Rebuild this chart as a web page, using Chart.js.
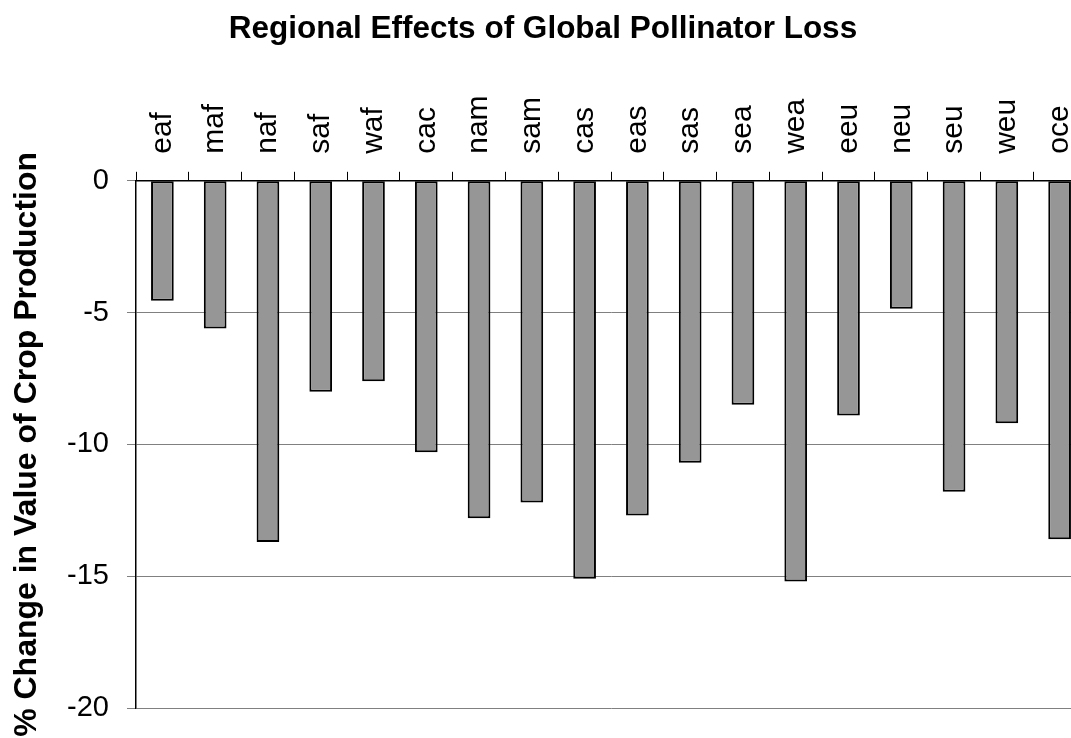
<!DOCTYPE html>
<html>
<head>
<meta charset="utf-8">
<script src="https://cdn.jsdelivr.net/npm/chart.js@4/dist/chart.umd.min.js"></script>
<style>
    html, body { margin: 0; padding: 0; background: #fff; overflow: hidden; }
    #wrap { width: 1090px; height: 738px; }
</style>
</head>
<body>
<div id="wrap"><canvas id="pollChart" width="1090" height="738"></canvas></div>
<script>
const regions = ['eaf', 'maf', 'naf', 'saf', 'waf', 'cac', 'nam', 'sam', 'cas',
    'eas', 'sas', 'sea', 'wea', 'eeu', 'neu', 'seu', 'weu', 'oce'];
const pctChange = [-4.55, -5.6, -13.7, -8.0, -7.6, -10.3, -12.8, -12.2, -15.1,
    -12.7, -10.7, -8.5, -15.2, -8.9, -4.85, -11.8, -9.2, -13.6];
const yMin = -20;
const yMax = 0;
const yStep = 5;

const fontFamily = '"Liberation Sans", Arial, sans-serif';

function getConfig() {
    return {
        type: 'bar',
        data: {
            labels: regions,
            datasets: [
                {
                    data: pctChange,
                    backgroundColor: '#969696',
                    borderColor: '#000000',
                    borderWidth: 2,
                    borderSkipped: false,
                    barPercentage: 0.43,
                    categoryPercentage: 1.0
                }
            ]
        },
        options: {
            responsive: false,
            animation: false,
            layout: {
                padding: { left: 0, right: 4, top: 0, bottom: 30 }
            },
            plugins: {
                legend: { display: false },
                tooltip: { enabled: false },
                title: {
                    display: true,
                    text: 'Regional Effects of Global Pollinator Loss',
                    color: '#000',
                    font: { family: fontFamily, size: 31.5, weight: 'bold' },
                    padding: { top: 10, bottom: 0 }
                }
            },
            scales: {
                x: {
                    position: 'top',
                    // pin the plot top where the reference has it
                    afterFit: (scale) => { scale.height = 133; },
                    grid: {
                        drawOnChartArea: false,
                        drawTicks: true,
                        tickLength: 9,
                        color: '#000',
                        offset: true
                    },
                    border: { display: true, color: '#000', width: 1.5 },
                    ticks: {
                        color: '#000',
                        minRotation: 90,
                        maxRotation: 90,
                        autoSkip: false,
                        padding: 18,
                        labelOffset: 36,
                        font: { family: fontFamily, size: 30 }
                    }
                },
                y: {
                    min: yMin,
                    max: yMax,
                    afterFit: (scale) => {
                        scale.width = 136;
                        // let layout.padding decide the bottom edge
                        scale.paddingTop = 0;
                        scale.paddingBottom = 0;
                    },
                    grid: {
                        color: '#808080',
                        lineWidth: 1,
                        tickLength: 9,
                        tickColor: '#808080'
                    },
                    border: { display: true, color: '#000', width: 1.5 },
                    ticks: {
                        stepSize: yStep,
                        color: '#000',
                        padding: 18,
                        font: { family: fontFamily, size: 29 }
                    },
                    title: {
                        display: true,
                        text: '% Change in Value of Crop Production',
                        color: '#000',
                        font: { family: fontFamily, size: 32, weight: 'bold' },
                        padding: { top: 8, bottom: 0 }
                    }
                }
            }
        }
    };
}

new Chart(document.getElementById('pollChart'), getConfig());
</script>
</body>
</html>
